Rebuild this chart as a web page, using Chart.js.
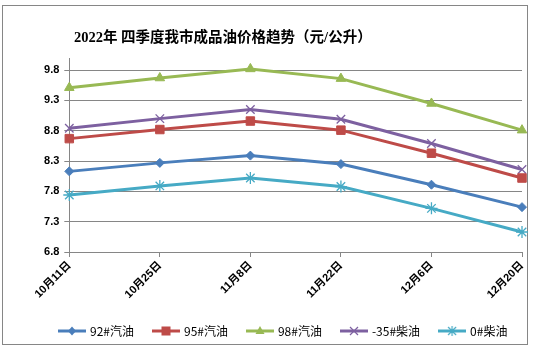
<!DOCTYPE html>
<html>
<head>
<meta charset="utf-8">
<script src="https://cdn.jsdelivr.net/npm/chart.js@4.4.0/dist/chart.umd.min.js"></script>
<style>
  html, body { margin: 0; padding: 0; background: #fff; }
  #wrap { position: relative; width: 540px; height: 349px; }
  #title {
    position: absolute; left: 74px; top: 29px;
    font: bold 14.5px 'Liberation Serif', 'Noto Sans CJK SC', serif;
    line-height: 16px; color: #000; white-space: nowrap;
  }
</style>
</head>
<body>
<div id="wrap">
  <canvas id="priceChart" width="540" height="349"></canvas>
  <div id="title">2022年 四季度我市成品油价格趋势（元/公升）</div>
</div>
<script>
const categories = ["10月11日", "10月25日", "11月8日", "11月22日", "12月6日", "12月20日"];
const gas92 = [8.13, 8.27, 8.39, 8.25, 7.91, 7.54];
const gas95 = [8.67, 8.82, 8.96, 8.81, 8.43, 8.02];
const gas98 = [9.51, 9.67, 9.82, 9.66, 9.25, 8.81];
const diesel35 = [8.84, 9.00, 9.15, 8.99, 8.59, 8.16];
const diesel0 = [7.74, 7.89, 8.02, 7.88, 7.52, 7.13];
const seriesNames = ["92#汽油", "95#汽油", "98#汽油", "-35#柴油", "0#柴油"];
const yTicks = [6.8, 7.3, 7.8, 8.3, 8.8, 9.3, 9.8];
const yMin = 6.8;
const yMax = 10.0;

const GRID = "#868686";

// small line+marker picture for the legend, like Excel draws it
function legendIcon(color, style) {
  const c = document.createElement("canvas");
  c.width = 28;
  c.height = 12;
  const g = c.getContext("2d");
  g.strokeStyle = color;
  g.fillStyle = color;
  g.lineWidth = 3;
  g.beginPath();
  g.moveTo(0, 6);
  g.lineTo(28, 6);
  g.stroke();
  const x = 14, y = 6;
  g.lineWidth = 1.2;
  g.beginPath();
  if (style === "rectRot") {
    g.moveTo(x, y - 4.5); g.lineTo(x + 4, y); g.lineTo(x, y + 4.5); g.lineTo(x - 4, y); g.closePath(); g.fill();
  } else if (style === "rect") {
    g.fillRect(x - 4.5, y - 4.5, 9, 9);
  } else if (style === "triangle") {
    g.moveTo(x, y - 5); g.lineTo(x + 4.5, y + 3); g.lineTo(x - 4.5, y + 3); g.closePath(); g.fill();
  } else if (style === "crossRot") {
    g.moveTo(x - 4, y - 4); g.lineTo(x + 4, y + 4); g.moveTo(x + 4, y - 4); g.lineTo(x - 4, y + 4); g.stroke();
  } else {
    g.moveTo(x - 4, y - 4); g.lineTo(x + 4, y + 4); g.moveTo(x + 4, y - 4); g.lineTo(x - 4, y + 4);
    g.moveTo(x, y - 5); g.lineTo(x, y + 5); g.stroke();
  }
  return c;
}

const colors = ["#4A7EBB", "#BE4B48", "#98B954", "#7D60A0", "#46AAC5"];
const styles = ["rectRot", "rect", "triangle", "crossRot", "star"];
const radii = [4.5, 6, 5.5, 6, 6];
const values = [gas92, gas95, gas98, diesel35, diesel0];

const datasets = values.map((data, i) => ({
  label: seriesNames[i],
  data: data,
  borderColor: colors[i],
  backgroundColor: colors[i],
  borderWidth: 3,
  tension: 0,
  pointStyle: styles[i],
  pointRadius: radii[i],
  pointBackgroundColor: colors[i],
  pointBorderColor: colors[i],
  pointBorderWidth: (styles[i] === "crossRot" || styles[i] === "star") ? 1.3 : 1
}));

const icons = colors.map((c, i) => legendIcon(c, styles[i]));

const framePlugin = {
  id: "frame",
  beforeDraw(chart) {
    const ctx = chart.ctx;
    ctx.save();
    ctx.fillStyle = "#fff";
    ctx.fillRect(0, 0, chart.width, chart.height);
    ctx.strokeStyle = GRID;
    ctx.lineWidth = 1;
    ctx.strokeRect(2.5, 5.5, 525, 339);
    ctx.restore();
  }
};

// one-row legend at the bottom, Excel style (line with marker, then name)
const legendPlugin = {
  id: "bottomLegend",
  afterDraw(chart) {
    const ctx = chart.ctx;
    ctx.save();
    ctx.font = "12px 'Noto Sans CJK SC', 'Liberation Sans', sans-serif";
    ctx.textBaseline = "middle";
    ctx.textAlign = "left";
    ctx.fillStyle = "#000";
    let x = 58;
    const y = 331;
    chart.data.datasets.forEach((ds, i) => {
      ctx.drawImage(icons[i], x, y - 6);
      x += 28 + 4;
      ctx.fillText(ds.label, x, y);
      x += ctx.measureText(ds.label).width + 18;
    });
    ctx.restore();
  }
};

const ctx = document.getElementById("priceChart").getContext("2d");
new Chart(ctx, {
  type: "line",
  data: { labels: categories, datasets: datasets },
  plugins: [framePlugin, legendPlugin],
  options: {
    responsive: false,
    animation: false,
    devicePixelRatio: 1,
    layout: { padding: { left: 41, right: 18, top: 58, bottom: 41 } },
    plugins: {
      title: { display: false },
      tooltip: { enabled: false },
      legend: { display: false }
    },
    scales: {
      x: {
        offset: false,
        grid: { display: true, drawOnChartArea: false, drawTicks: true, tickLength: 5, color: GRID },
        border: { display: true, color: GRID },
        ticks: {
          autoSkip: false,
          minRotation: 45,
          maxRotation: 45,
          padding: 2,
          color: "#000",
          font: { family: "'Liberation Sans', 'Noto Sans CJK SC', sans-serif", size: 11, weight: "bold" }
        },
        afterFit: scale => { scale.height = 56; }
      },
      y: {
        min: yMin,
        max: yMax,
        afterBuildTicks: scale => { scale.ticks = yTicks.map(v => ({ value: v })); },
        grid: { color: GRID, tickLength: 5 },
        border: { display: true, color: GRID },
        ticks: {
          padding: 5,
          color: "#000",
          callback: v => Number(v).toFixed(1),
          font: { family: "'Liberation Sans', sans-serif", size: 11, weight: "bold" }
        },
        afterFit: scale => { scale.width = 28.3; }
      }
    }
  }
});
</script>
</body>
</html>
